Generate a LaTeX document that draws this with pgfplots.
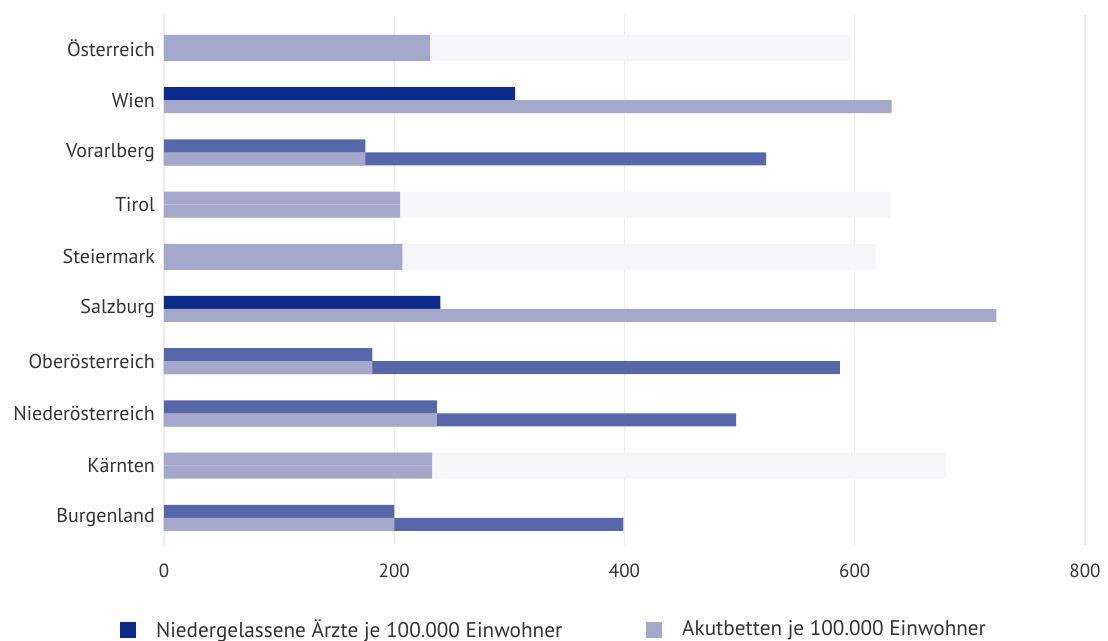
\documentclass[border=0pt]{standalone}
\usepackage{fontspec}
\setmainfont{PT Sans}
\usepackage{pgfplots}
\pgfplotsset{compat=1.18}
\definecolor{darkb}{HTML}{0D2B8B}
\definecolor{medb}{HTML}{5668AA}
\definecolor{lightb}{HTML}{A4A9CB}
\definecolor{faintb}{HTML}{F7F7FA}
\definecolor{txt}{HTML}{333333}
\definecolor{gridc}{HTML}{EFEFEF}
\begin{document}
\begin{tikzpicture}
\useasboundingbox (-82pt,-48pt) rectangle (472pt,272.5pt);
\begin{axis}[
  at={(0,0)}, anchor=south west,
  scale only axis, width=460.5pt, height=265pt,
  xmin=0, xmax=800, ymin=-0.52, ymax=9.63,
  xtick={0,200,400,600,800},
  ytick={0,...,9},
  yticklabels={Burgenland,Kärnten,Niederösterreich,Oberösterreich,Salzburg,Steiermark,Tirol,Vorarlberg,Wien,Österreich},
  axis line style={draw=none},
  major tick length=0pt,
  xmajorgrids, grid style={gridc, line width=0.6pt},
  ticklabel style={font=\fontsize{9.5}{11}\selectfont, text=txt},
  yticklabel style={font=\fontsize{10}{12}\selectfont, xshift=-1pt},
  /pgf/number format/assume math mode=true,
  xticklabel style={yshift=-6pt},
  legend style={at={(0.4245,-0.160)}, anchor=center, draw=none, fill=none,
    legend columns=2, font=\fontsize{10.6}{12}\selectfont, text=txt,
    /tikz/every odd column/.append style={column sep=8pt},
    /tikz/every even column/.append style={column sep=40pt}},
  legend image code/.code={\fill[#1] (0pt,-4pt) rectangle (8pt,4pt);},
]
% faint continuations
\addplot[xbar, bar width=13pt, bar shift=0pt, fill=faintb, draw=none, forget plot]
  coordinates {(596,9) (631,6) (618,5) (679,1)};
% Aerzte
\addplot[xbar, bar width=6.5pt, bar shift=3.25pt, fill=darkb, draw=none, forget plot]
  coordinates {(305,8) (240,4)};
\addplot[xbar, bar width=6.5pt, bar shift=3.25pt, fill=medb, draw=none, forget plot]
  coordinates {(175,7) (181,3) (237,2) (200,0)};
\addplot[xbar, bar width=6.5pt, bar shift=3.25pt, fill=lightb, draw=none, forget plot]
  coordinates {(231,9) (205,6) (207,5) (233,1)};
% Akutbetten
\addplot[xbar, bar width=6.5pt, bar shift=-3.25pt, fill=medb, draw=none, forget plot]
  coordinates {(523,7) (587,3) (497,2) (399,0)};
\addplot[xbar, bar width=6.5pt, bar shift=-3.25pt, fill=lightb, draw=none, forget plot]
  coordinates {(632,8) (723,4) (175,7) (181,3) (237,2) (200,0) (231,9) (205,6) (207,5) (233,1)};
\addlegendimage{fill=darkb, draw=none}
\addlegendentry{Niedergelassene Ärzte je 100.000 Einwohner}
\addlegendimage{fill=lightb, draw=none}
\addlegendentry{Akutbetten je 100.000 Einwohner}
\end{axis}
\end{tikzpicture}
\end{document}
